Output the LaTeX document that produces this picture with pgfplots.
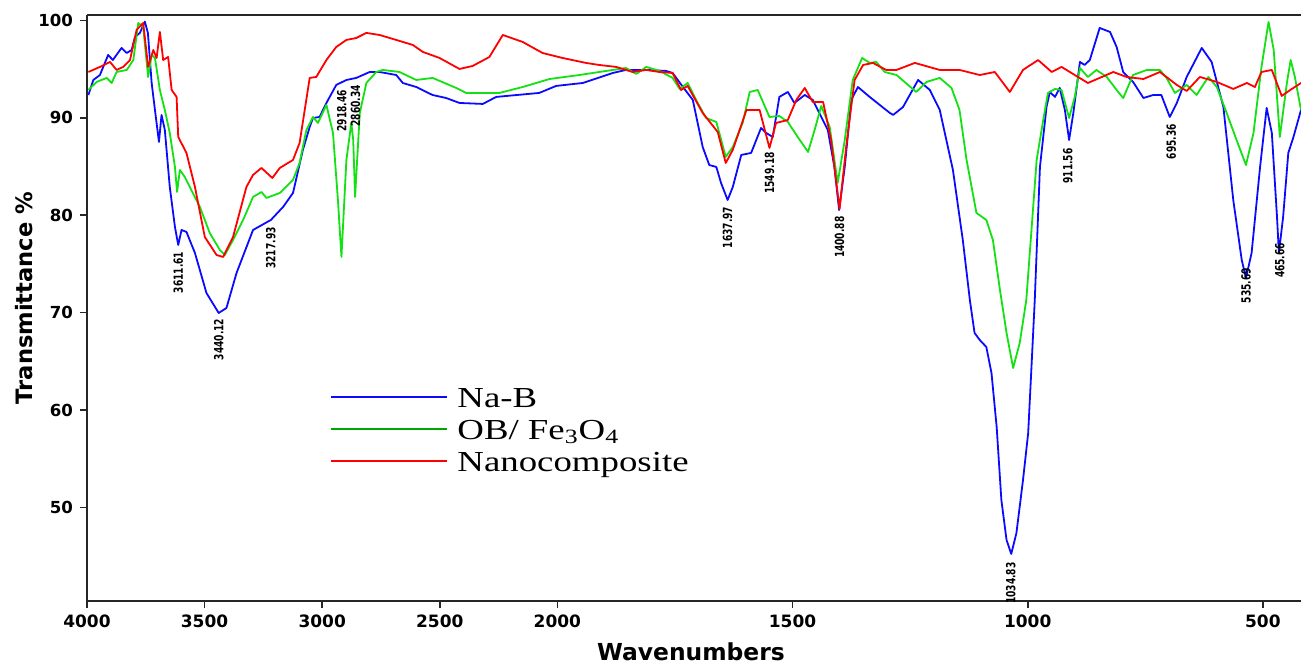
\documentclass[border=0pt]{standalone}
\usepackage{pgfplots}
\usepackage{pgfplotstable}
\pgfplotsset{compat=1.18}
\usepackage{fontspec}
\setmainfont{DejaVu Sans}
\newfontfamily\peakfont[FakeStretch=0.72]{DejaVu Sans}
\newfontfamily\legfont[FakeStretch=1.27]{Liberation Serif}

\definecolor{nabc}{RGB}{10,10,255}
\definecolor{obfec}{RGB}{20,225,20}
\definecolor{obfeleg}{RGB}{0,165,0}
\definecolor{nanoc}{RGB}{255,0,0}

\tikzset{peak/.style={rotate=90, anchor=east, inner sep=0pt,
    font=\peakfont\bfseries\fontsize{6.3}{7}\selectfont}}

% Na-B spectrum (wavenumber, transmittance)
\pgfplotstableread{
w T
3994 92.35
3973 93.89
3945 94.40
3910 96.46
3890 95.94
3853 97.18
3831 96.66
3810 96.97
3796 98.31
3775 98.72
3754 99.88
3741 98.72
3725 93.58
3711 90.81
3694 87.53
3683 90.30
3669 88.76
3648 82.91
3626 78.80
3612 76.95
3598 78.49
3577 78.29
3541 76.13
3492 72.02
3440 69.97
3407 70.48
3364 74.08
3294 78.49
3218 79.52
3166 80.86
3124 82.29
3082 86.71
3053 89.07
3039 89.99
3011 90.09
2982 91.53
2940 93.38
2897 93.89
2855 94.10
2798 94.71
2756 94.71
2685 94.40
2657 93.58
2600 93.17
2531 92.35
2473 92.04
2416 91.53
2317 91.43
2260 92.15
2077 92.56
2005 93.28
1946 93.58
1882 94.61
1854 94.92
1811 94.92
1769 94.82
1755 94.61
1733 93.17
1712 91.84
1691 87.01
1677 85.16
1662 84.96
1652 83.32
1638 81.57
1627 82.91
1609 86.19
1588 86.40
1567 88.96
1556 88.45
1542 88.04
1528 92.15
1510 92.66
1496 91.53
1474 92.35
1457 91.84
1425 88.76
1411 84.96
1401 80.54
1389 84.96
1375 91.84
1361 93.17
1336 92.15
1293 90.50
1286 90.30
1265 91.12
1233 93.89
1208 92.86
1187 90.81
1159 84.65
1138 77.46
1123 71.30
1113 67.92
1102 67.20
1088 66.48
1077 63.81
1066 58.26
1056 50.77
1045 46.66
1035 45.23
1024 47.38
1010 52.82
999 57.65
992 64.42
985 71.30
974 84.96
960 91.12
953 92.66
942 92.15
932 93.07
921 90.81
912 87.73
903 90.50
889 95.74
879 95.43
868 95.94
847 99.23
825 98.82
811 97.28
797 94.71
776 93.69
754 92.04
733 92.35
716 92.35
698 90.09
683 91.53
662 94.20
630 97.18
609 95.74
584 91.12
563 81.57
545 75.41
536 73.56
524 76.13
506 84.96
492 91.02
481 88.45
470 79.83
466 76.13
457 79.83
446 86.40
435 88.04
419 90.81
}\nabdata

% OB/Fe3O4 spectrum
\pgfplotstableread{
w T
3994 92.86
3959 93.69
3916 94.10
3895 93.58
3874 94.71
3831 94.92
3803 95.94
3782 99.74
3761 99.33
3740 94.20
3725 96.46
3711 96.15
3690 92.86
3669 90.81
3648 88.45
3626 84.96
3617 82.39
3605 84.65
3584 83.93
3563 82.91
3520 80.86
3478 78.18
3435 76.44
3414 75.92
3379 77.46
3336 79.52
3294 81.88
3258 82.39
3237 81.78
3180 82.29
3124 83.63
3096 85.37
3067 88.76
3039 90.09
3018 89.48
2982 91.33
2954 88.45
2933 81.57
2918 75.72
2897 85.68
2876 89.48
2868 87.73
2860 81.88
2840 90.50
2812 93.58
2770 94.71
2742 94.92
2671 94.71
2600 93.89
2530 94.10
2430 93.07
2388 92.56
2246 92.56
2147 93.17
2033 93.99
1953 94.40
1911 94.71
1854 95.12
1832 94.51
1811 95.23
1783 94.82
1755 94.10
1740 92.97
1723 93.58
1705 91.84
1684 89.99
1662 89.58
1642 85.99
1627 87.01
1606 89.48
1591 92.66
1574 92.86
1549 90.09
1528 90.19
1510 89.58
1489 88.04
1467 86.50
1453 88.76
1439 91.22
1421 89.07
1404 83.32
1389 87.73
1372 93.89
1352 96.15
1336 95.64
1322 95.74
1304 94.71
1279 94.40
1237 92.66
1215 93.69
1187 94.10
1162 93.07
1145 90.81
1130 85.68
1109 80.24
1088 79.52
1074 77.46
1059 72.33
1045 67.92
1031 64.32
1017 66.89
1003 71.30
981 85.68
967 89.78
957 92.56
942 92.97
928 92.86
912 89.99
900 92.15
889 95.12
872 94.20
854 94.92
832 94.20
811 92.86
797 92.04
776 94.40
747 94.92
719 94.92
705 94.10
687 92.56
662 93.38
641 92.35
616 94.20
598 93.17
577 90.50
556 87.73
536 85.16
520 88.45
503 95.23
488 99.85
477 96.97
464 88.04
449 93.58
441 95.94
432 94.20
419 90.81
}\obfedata

% Nanocomposite spectrum
\pgfplotstableread{
w T
3994 94.71
3945 95.23
3902 95.74
3874 94.92
3846 95.23
3817 95.94
3789 99.03
3761 99.74
3740 95.23
3718 96.97
3704 96.15
3690 98.82
3676 95.94
3655 96.25
3640 92.86
3619 92.15
3612 88.04
3577 86.40
3541 82.91
3499 77.77
3449 75.92
3421 75.72
3379 77.77
3322 82.91
3294 84.14
3258 84.86
3212 83.83
3180 84.86
3124 85.68
3096 87.42
3053 94.10
3025 94.20
2982 95.94
2940 97.28
2897 98.00
2855 98.20
2812 98.72
2756 98.51
2685 98.00
2614 97.48
2572 96.77
2501 96.15
2416 95.02
2360 95.33
2289 96.25
2232 98.51
2147 97.79
2063 96.66
1989 96.15
1939 95.64
1911 95.43
1875 95.23
1840 94.71
1811 94.92
1783 94.71
1755 94.61
1737 92.86
1723 93.28
1691 90.50
1659 88.55
1642 85.37
1627 86.71
1598 90.81
1570 90.81
1549 86.91
1535 89.48
1510 89.78
1492 91.84
1474 93.07
1457 91.63
1435 91.63
1418 87.73
1400 80.65
1386 87.01
1368 93.89
1350 95.43
1329 95.64
1301 94.92
1279 94.92
1240 95.64
1187 94.92
1145 94.92
1102 94.40
1070 94.71
1038 92.66
1010 94.92
978 95.94
949 94.71
928 95.23
900 94.40
872 93.58
818 94.71
790 94.20
754 93.99
719 94.71
683 93.38
662 92.76
634 94.20
598 93.69
563 92.97
534 93.58
517 93.17
503 94.71
481 94.92
460 92.25
442 92.86
419 93.58
}\nanodata

\begin{document}
\begin{tikzpicture}
\begin{axis}[
  at={(0,0)}, anchor=south west,
  scale only axis, width=607pt, height=293pt,
  x dir=reverse,
  % the spectrometer scale doubles below 2000 cm^-1
  x coord trafo/.code={\pgfmathparse{#1>2000 ? 2000+0.5*(#1-2000) : #1}},
  xmin=419, xmax=4000,
  ymin=40.4, ymax=100.56,
  axis y line*=left,
  xtick={4000,3500,3000,2500,2000,1500,1000,500},
  xticklabels={4000,3500,3000,2500,2000,1500,1000,500},
  ytick={50,60,70,80,90,100},
  tick pos=left, tick align=outside, major tick length=3.5pt,
  axis line style={black!85, line width=0.8pt},
  every tick/.style={black!85, line width=0.8pt},
  /pgf/number format/assume math mode=true,
  xticklabel style={font=\bfseries\fontsize{8.5}{10}\selectfont},
  yticklabel style={font=\bfseries\fontsize{8.3}{10}\selectfont},
  xlabel={Wavenumbers},
  ylabel={Transmittance \%},
  xlabel style={at={(axis description cs:0.4975,-0.1007)}, anchor=base,
    font=\bfseries\fontsize{11.7}{14}\selectfont},
  ylabel style={at={(axis description cs:-0.0519,0.517)}, anchor=center,
    font=\bfseries\fontsize{11.3}{14}\selectfont},
  legend style={at={(0.2002,0.372)}, anchor=north west, draw=none, fill=none,
    inner sep=0pt, row sep=2pt, column sep=4.5pt,
    font=\legfont\fontsize{14.5}{16}\selectfont,
    nodes={inner sep=0pt, text height=12pt, text depth=2pt}},
  legend cell align=left,
  legend image code/.code={\draw[#1] (0pt,0pt) -- (58pt,0pt);},
]
\addplot[nabc, line width=0.9pt, line join=round, forget plot] table[x=w, y=T] {\nabdata};
\addplot[obfec, line width=0.9pt, line join=round, forget plot] table[x=w, y=T] {\obfedata};
\addplot[nanoc, line width=0.9pt, line join=round, forget plot] table[x=w, y=T] {\nanodata};

\addlegendimage{nabc, line width=1pt}
\addlegendentry{Na-B}
\addlegendimage{obfeleg, line width=1pt}
\addlegendentry{OB/ Fe\textsubscript{3}O\textsubscript{4}}
\addlegendimage{nanoc, line width=1pt}
\addlegendentry{Nanocomposite}

% peak positions
\node[peak] at (axis cs:3612,76.3) {3611.61};
\node[peak] at (axis cs:3440,69.4) {3440.12};
\node[peak] at (axis cs:3218,78.8) {3217.93};
\node[peak] at (axis cs:2917,92.9) {2918.46};
\node[peak] at (axis cs:2858,93.4) {2860.34};
\node[peak] at (axis cs:1638,80.9) {1637.97};
\node[peak] at (axis cs:1549,86.5) {1549.18};
\node[peak] at (axis cs:1400,79.9) {1400.88};
\node[peak] at (axis cs:1036,44.4) {1034.83};
\node[peak] at (axis cs:915,86.9) {911.56};
\node[peak] at (axis cs:695,89.4) {695.36};
\node[peak] at (axis cs:536,74.6) {535.69};
\node[peak] at (axis cs:464,77.2) {465.66};
\end{axis}
\pgfresetboundingbox
\path[use as bounding box] (-43.5pt,-32pt) rectangle (607pt,300.5pt);
\end{tikzpicture}
\end{document}
